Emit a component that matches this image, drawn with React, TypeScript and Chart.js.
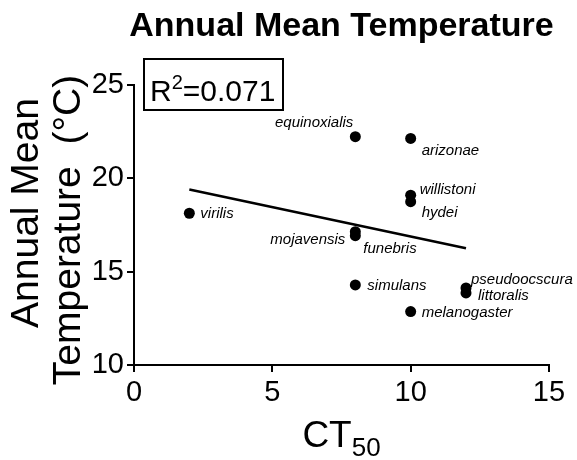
import React, { useEffect, useRef } from "react";
import { Chart, registerables } from "chart.js";

Chart.register(...registerables);

// ---- data ----
const species = [
  "equinoxialis",
  "arizonae",
  "willistoni",
  "hydei",
  "virilis",
  "mojavensis",
  "funebris",
  "simulans",
  "pseudoocscura",
  "littoralis",
  "melanogaster",
];
const ct50 = [8, 10, 10, 10, 2, 8, 8, 8, 12, 12, 10];
const annualMeanTemp = [22.23, 22.14, 19.1, 18.75, 18.13, 17.14, 16.93, 14.29, 14.13, 13.86, 12.86];
const fitX = [2, 12];
const fitY = [19.4, 16.25];
const xTickValues = [0, 5, 10, 15];
const yTickValues = [10, 15, 20, 25];
const rSquaredText = "0.071";
const chartTitle = "Annual Mean Temperature";
const yTitleLines = ["Annual Mean", "Temperature  (\u00B0C)"];
const xTitleMain = "CT";
const xTitleSub = "50";

// ---- label placement (style only) ----
const labelPlacement: Record<string, { dx: number; dy: number; align: CanvasTextAlign }> = {
  equinoxialis: { dx: -2, dy: -15, align: "right" },
  arizonae: { dx: 11, dy: 11, align: "left" },
  willistoni: { dx: 9, dy: -6, align: "left" },
  hydei: { dx: 11, dy: 10, align: "left" },
  virilis: { dx: 11, dy: 0, align: "left" },
  mojavensis: { dx: -10, dy: 7, align: "right" },
  funebris: { dx: 8, dy: 12, align: "left" },
  simulans: { dx: 12, dy: 0, align: "left" },
  pseudoocscura: { dx: 5, dy: -9, align: "left" },
  littoralis: { dx: 12, dy: 2, align: "left" },
  melanogaster: { dx: 11, dy: 0, align: "left" },
};

const FONT = '"Liberation Sans", Arial, Helvetica, sans-serif';

const annotate = {
  id: "annotate",
  afterDraw(chart: any) {
    const ctx: CanvasRenderingContext2D = chart.ctx;
    const xs = chart.scales.x;
    const ys = chart.scales.y;
    const area = chart.chartArea;
    ctx.save();
    ctx.fillStyle = "#000";
    ctx.strokeStyle = "#000";

    // point labels
    ctx.font = `italic 15px ${FONT}`;
    ctx.textBaseline = "middle";
    species.forEach((name, i) => {
      const px = xs.getPixelForValue(ct50[i]);
      const py = ys.getPixelForValue(annualMeanTemp[i]);
      const p = labelPlacement[name];
      ctx.textAlign = p.align;
      ctx.fillText(name, px + p.dx, py + p.dy + 1);
    });

    // title
    ctx.font = `bold 34px ${FONT}`;
    ctx.textAlign = "center";
    ctx.textBaseline = "alphabetic";
    ctx.fillText(chartTitle, (area.left + area.right) / 2, 36);

    // R² box
    ctx.lineWidth = 2;
    ctx.strokeRect(144, 59, 139, 51);
    ctx.textAlign = "left";
    ctx.font = `30px ${FONT}`;
    let x = 150;
    ctx.fillText("R", x, 101);
    x += ctx.measureText("R").width;
    ctx.font = `20px ${FONT}`;
    ctx.fillText("2", x, 89);
    x += ctx.measureText("2").width;
    ctx.font = `30px ${FONT}`;
    ctx.fillText("=" + rSquaredText, x, 101);

    // y-axis title (two rotated lines)
    ctx.font = `39px ${FONT}`;
    ctx.textAlign = "center";
    ctx.textBaseline = "alphabetic";
    const yCenters = [213, 230];
    const xBaselines = [38, 80];
    yTitleLines.forEach((line, i) => {
      ctx.save();
      ctx.translate(xBaselines[i], yCenters[i]);
      ctx.rotate(-Math.PI / 2);
      ctx.fillText(line, 0, 0);
      ctx.restore();
    });

    // x-axis title with subscript
    ctx.font = `37px ${FONT}`;
    const wMain = ctx.measureText(xTitleMain).width;
    ctx.font = `26px ${FONT}`;
    const wSub = ctx.measureText(xTitleSub).width;
    const startX = (area.left + area.right) / 2 - (wMain + wSub) / 2;
    ctx.textAlign = "left";
    ctx.font = `37px ${FONT}`;
    ctx.fillText(xTitleMain, startX, 447);
    ctx.font = `26px ${FONT}`;
    ctx.fillText(xTitleSub, startX + wMain, 456);

    ctx.restore();
  },
};

export default function App() {
  const canvasRef = useRef<HTMLCanvasElement | null>(null);

  useEffect(() => {
    if (!canvasRef.current) return;
    const chart = new Chart(canvasRef.current, {
      type: "scatter",
      data: {
        datasets: [
          {
            label: "species",
            data: species.map((_, i) => ({ x: ct50[i], y: annualMeanTemp[i] })),
            backgroundColor: "#000",
            borderColor: "#000",
            borderWidth: 0,
            pointRadius: 5.5,
            pointHoverRadius: 5.5,
          },
          {
            label: "fit",
            type: "line",
            data: fitX.map((v, i) => ({ x: v, y: fitY[i] })),
            borderColor: "#000",
            borderWidth: 2.5,
            pointRadius: 0,
            showLine: true,
            fill: false,
          } as any,
        ],
      },
      options: {
        animation: false,
        responsive: false,
        devicePixelRatio: 1,
        layout: { padding: { left: 0, right: 28, top: 85, bottom: 0 }, autoPadding: false },
        plugins: {
          legend: { display: false },
          tooltip: { enabled: false },
          title: { display: false },
        },
        scales: {
          x: {
            type: "linear",
            min: 0,
            max: 15,
            afterBuildTicks: (scale: any) => {
              scale.ticks = xTickValues.map((v) => ({ value: v }));
            },
            afterFit: (scale: any) => {
              scale.height = 95;
            },
            ticks: { color: "#000", font: { family: FONT, size: 29 }, padding: 4, maxRotation: 0, autoSkip: false },
            grid: { drawOnChartArea: false, drawTicks: true, tickLength: 7, color: "#000", lineWidth: 2 },
            border: { display: true, color: "#000", width: 2 },
          },
          y: {
            type: "linear",
            min: 10,
            max: 25,
            afterBuildTicks: (scale: any) => {
              scale.ticks = yTickValues.map((v) => ({ value: v }));
            },
            afterFit: (scale: any) => {
              scale.width = 134;
            },
            ticks: { color: "#000", font: { family: FONT, size: 29 }, padding: 3, autoSkip: false },
            grid: { drawOnChartArea: false, drawTicks: true, tickLength: 7, color: "#000", lineWidth: 2 },
            border: { display: true, color: "#000", width: 2 },
          },
        },
      },
      plugins: [annotate],
    });
    return () => chart.destroy();
  }, []);

  return (
    <div style={{ position: "absolute", left: 0, top: 0, width: 577, height: 460, background: "#fff" }}>
      <canvas ref={canvasRef} width={577} height={460} style={{ display: "block" }} />
    </div>
  );
}
